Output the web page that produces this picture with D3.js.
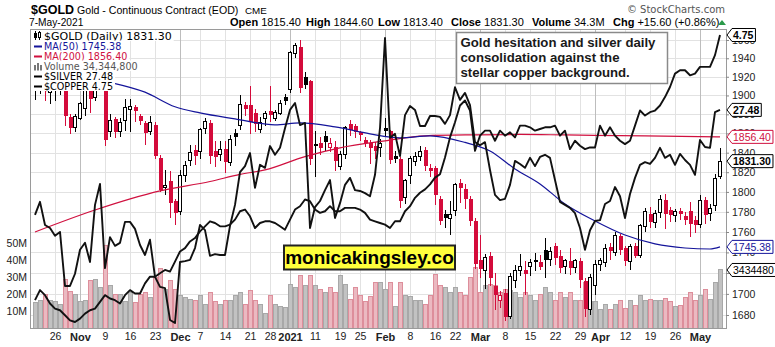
<!DOCTYPE html>
<html><head><meta charset="utf-8">
<script src="https://cdn.jsdelivr.net/npm/d3@7"></script>
<style>
body{margin:0;background:#fff;}
svg{display:block;font-family:"Liberation Sans",Arial,sans-serif;}
</style>
</head><body>
<svg id="c" width="775" height="347"></svg>
<script>
// ---------- DATA ----------
const tradingDays = {
  '2020-10': [20,21,22,23,26,27,28,29,30],
  '2020-11': [2,3,4,5,6,9,10,11,12,13,16,17,18,19,20,23,24,25,27,30],
  '2020-12': [1,2,3,4,7,8,9,10,11,14,15,16,17,18,21,22,23,24,28,29,30,31],
  '2021-01': [4,5,6,7,8,11,12,13,14,15,19,20,21,22,25,26,27,28,29],
  '2021-02': [1,2,3,4,5,8,9,10,11,12,16,17,18,19,22,23,24,25,26],
  '2021-03': [1,2,3,4,5,8,9,10,11,12,15,16,17,18,19,22,23,24,25,26,29,30,31],
  '2021-04': [1,5,6,7,8,9,12,13,14,15,16,19,20,21,22,23,26,27,28,29,30],
  '2021-05': [3,4,5,6,7]
};
const openP = [1906,1907,1922,1903,1905,1908,1910,1877,1866,1876,1886,1910,1898,1946,1955,1862,1875,1862,1874,1885,
1888,1878,1871,1862,1869,1835,1804,1811,1791,1780,1817,1832,1843,1841,1865,1871,1842,1838,1844,1830,
1860,1868,1890,1890,1881,1864,1876,1884,1876,1881,1898,1906,1945,1952,1920,1915,1849,1850,1857,1845,
1846,1826,1838,1870,1868,1861,1853,1850,1847,1845,1866,1862,1837,1833,1794,1817,1831,1836,1843,1824,
1824,1793,1778,1773,1781,1809,1803,1793,1771,1733,1722,1736,1708,1694,1701,1679,1713,1722,1723,1726,
1733,1731,1742,1733,1746,1736,1726,1732,1725,1732,1712,1685,1708,1728,1730,1745,1740,1756,1744,1731,
1746,1737,1765,1778,1769,1779,1792,1782,1776,1781,1776,1781,1772,1767,1792,1778,1786,1815.4];
const highP = [1916,1933,1928,1912,1917,1915,1912,1880,1880,1893,1912,1925,1952,1965,1966,1880,1877,1876,1896,1896,
1890,1880,1873,1878,1872,1838,1822,1821,1793,1822,1831,1848,1848,1866,1876,1874,1852,1852,1852,1858,
1865,1900,1893,1910,1886,1877,1884,1910,1885,1895,1902,1948,1957,1960,1925,1917,1862,1856,1862,1855,
1852,1842,1868,1874,1870,1863,1856,1853,1851,1854,1876,1864,1842,1836,1813,1837,1841,1847,1846,1828,
1826,1796,1782,1791,1809,1813,1808,1796,1774,1757,1738,1740,1720,1703,1705,1720,1728,1738,1732,1734,
1739,1737,1754,1745,1749,1742,1734,1744,1734,1735,1715,1719,1733,1735,1748,1749,1760,1758,1746,1748,
1749,1768,1784,1785,1782,1797,1798,1785,1783,1784,1780,1790,1776,1797,1795,1788,1818,1844.6];
const lowP = [1895,1902,1894,1891,1894,1901,1868,1859,1861,1874,1878,1881,1894,1937,1847,1856,1855,1856,1862,1861,
1872,1869,1848,1858,1834,1800,1797,1774,1767,1777,1810,1826,1827,1834,1859,1828,1825,1831,1819,1826,
1847,1864,1878,1859,1861,1860,1868,1872,1873,1879,1890,1903,1940,1903,1907,1827,1815,1838,1842,1841,
1821,1822,1834,1857,1855,1852,1846,1828,1834,1836,1856,1828,1829,1784,1788,1808,1826,1831,1821,1815,
1787,1767,1764,1757,1776,1789,1783,1766,1724,1715,1705,1708,1685,1687,1674,1676,1706,1717,1699,1717,
1722,1723,1715,1727,1728,1720,1719,1718,1720,1706,1678,1680,1699,1722,1726,1733,1736,1737,1727,1723,
1735,1735,1760,1764,1764,1774,1763,1770,1770,1772,1767,1755,1759,1764,1768,1771,1781,1813.4];
const closeP = [1907,1922,1905,1906,1908,1911,1878,1866,1878,1891,1907,1896,1946,1951,1853,1874,1861,1871,1887,1888,
1884,1873,1860,1871,1837,1802,1806,1789,1779,1817,1827,1840,1837,1864,1872,1837,1836,1843,1830,1854,
1856,1890,1886,1872,1870,1871,1881,1879,1882,1891,1894,1946,1954,1908,1911,1834,1847,1845,1851,1849,
1831,1838,1866,1864,1861,1858,1850,1845,1842,1849,1862,1832,1834,1791,1812,1834,1836,1841,1826,1821,
1797,1771,1774,1777,1807,1804,1793,1771,1729,1724,1735,1715,1699,1698,1678,1717,1722,1726,1719,1730,
1731,1726,1733,1741,1735,1725,1732,1725,1732,1713,1686,1716,1728,1732,1744,1741,1757,1742,1732,1746,
1736,1766,1780,1770,1778,1792,1778,1777,1780,1778,1772,1768,1767,1791,1777,1783,1814,1831.3];
const volumeM = [15,16,20,16,15.5,14,28.5,21.5,20,15.5,16,28,28.5,24,49,25,20,20,15.5,21,
15,20,21,18,30,35,23,28,23,19,18,17,16,19,14,21,15.5,14,16,16,
19,21,14,22,16,14,8.3,19,13.7,12.5,12,26,24,31,25,31,25,23,21,24,
21,31,26,17,24,19,15.5,18.5,27,27,23,27,13,27,19,18.5,16,16.5,14,19,
31.5,25,24,21,24,21,19,30,36,21,25,26,25,21,23,22,21,18,21,19,
16.5,20,24,21,16.5,21,18,21,16.5,16.5,27,15.5,15.5,11,14,11,14,16,11.5,16,
13.5,19,16,17,16,16,17.5,15.5,13,13.5,18,21,16,19,23,17,27,34.3448];
const silver = [25.07,25.37,24.84,24.77,24.59,24.68,23.44,23.44,23.72,24.27,
24.43,23.99,25.30,25.78,23.85,24.56,24.36,24.43,24.91,24.91,
24.75,24.38,24.15,24.50,23.65,23.42,23.39,22.66,22.59,23.99,
24.01,24.04,24.31,24.84,24.72,24.13,24.17,24.15,24.15,24.82,
25.30,26.05,26.19,26.49,25.69,26.22,26.15,26.65,26.45,26.61,
27.06,27.48,27.64,27.13,27.18,24.77,25.25,25.39,25.64,25.87,
25.00,25.34,25.76,25.92,25.64,25.62,25.57,25.50,25.99,27.06,
29.13,26.84,26.93,26.42,27.36,27.57,27.48,27.11,27.11,27.34,
27.34,27.32,27.16,27.36,28.00,27.71,27.87,27.59,26.74,26.67,
26.74,26.10,25.53,25.41,25.44,25.76,26.31,26.24,26.15,26.38,
26.19,26.40,26.45,26.38,25.87,25.37,25.30,25.23,25.11,24.77,
24.27,24.72,24.93,24.95,25.32,25.39,25.71,25.50,25.00,25.55,
25.92,26.22,26.28,26.24,26.38,26.61,26.38,26.45,26.22,26.47,
26.33,26.22,25.99,26.79,26.63,26.61,27.43,27.48];
const copper = [3.17,3.23,3.20,3.15,3.12,3.11,3.08,3.05,3.04,3.06,
3.09,3.11,3.12,3.16,3.20,3.18,3.17,3.15,3.20,3.23,
3.21,3.21,3.27,3.31,3.31,3.33,3.35,3.34,3.40,3.46,
3.48,3.52,3.54,3.58,3.61,3.64,3.63,3.61,3.61,3.62,
3.65,3.70,3.71,3.67,3.60,3.63,3.64,3.64,3.63,3.61,
3.59,3.65,3.71,3.73,3.77,3.76,3.71,3.69,3.70,3.73,
3.70,3.70,3.72,3.72,3.72,3.71,3.69,3.65,3.64,3.63,
3.62,3.60,3.64,3.64,3.70,3.73,3.78,3.81,3.83,3.86,
3.90,3.92,4.02,4.14,4.23,4.33,4.36,4.30,4.06,4.15,
4.18,4.18,4.12,4.18,4.15,4.17,4.14,4.21,4.21,4.20,
4.18,4.19,4.20,4.20,4.21,4.15,4.18,4.07,4.12,4.09,
4.07,4.08,4.08,4.21,4.15,4.20,4.15,4.12,4.10,4.12,
4.21,4.30,4.27,4.29,4.30,4.33,4.38,4.44,4.52,4.54,
4.54,4.51,4.52,4.56,4.56,4.56,4.63,4.75];
const ma50Dates = ['2020-10-20','2020-10-30','2020-11-10','2020-11-19','2020-11-30','2020-12-07','2020-12-16','2020-12-29',
  '2021-01-06','2021-01-15','2021-01-27','2021-02-04','2021-02-12','2021-02-24','2021-03-03','2021-03-10','2021-03-17',
  '2021-03-24','2021-04-01','2021-04-12','2021-04-20','2021-04-28','2021-05-05','2021-05-07'];
const ma50Values = [1927,1921,1914,1903.5,1888,1881.5,1875.2,1868.9,1871,1866.8,1859.5,1855.4,1857.5,1850.6,1841.8,
  1823.3,1808.1,1787.8,1770.9,1757,1748.3,1744.3,1743.3,1745.38];
const ma200Dates = ['2020-10-20','2020-11-05','2020-11-24','2020-12-09','2020-12-17','2020-12-24','2021-01-07','2021-01-19',
  '2021-02-01','2021-02-11','2021-02-26','2021-03-11','2021-03-24','2021-04-16','2021-05-07'];
const ma200Values = [1760,1781.8,1801,1810.5,1817.8,1822.3,1836,1845,1852.2,1857.5,1858.5,1858.9,1858.4,1857.4,1856.4];
const priceTicks = [1680,1700,1720,1740,1760,1780,1800,1820,1840,1860,1880,1900,1920,1940,1960];
const volumeTicks = [10e6,20e6,30e6,40e6,50e6];
const xTickDates = ['2020-10-26','2020-11-02','2020-11-09','2020-11-16','2020-11-23','2020-12-01','2020-12-07','2020-12-14',
  '2020-12-21','2020-12-28','2021-01-04','2021-01-11','2021-01-19','2021-01-25','2021-02-01','2021-02-08','2021-02-16',
  '2021-02-22','2021-03-01','2021-03-08','2021-03-15','2021-03-22','2021-03-29','2021-04-05','2021-04-12','2021-04-19',
  '2021-04-26','2021-05-03'];
const xTickLabels = ['26','Nov','9','16','23','Dec','7','14','21','28','2021','11','19','25','Feb','8','16','22','Mar','8',
  '15','22','29','Apr','12','19','26','May'];
const boldLabels = ['Nov','Dec','2021','Feb','Mar','Apr','May'];
const monthStarts = ['2020-11-02','2020-12-01','2021-01-04','2021-02-01','2021-03-01','2021-04-01','2021-05-03'];

// ---------- SETUP ----------
const dates = [];
Object.keys(tradingDays).forEach(m => tradingDays[m].forEach(d => dates.push(m + '-' + String(d).padStart(2,'0'))));
const idx = d => dates.indexOf(d);
const P = {l:30, r:726, t:29, b:328};
const svg = d3.select('#c');
const RED = '#d40b3b', BLACK = '#000';

const x = d3.scaleLinear().domain([-1, 138.2]).range([P.l, P.r]);
const y = d3.scaleLog().domain([1667.8, 1972.1]).range([P.b, P.t]);
const yVol = d3.scaleLinear().domain([0, 177e6]).range([P.b, P.t]);
const ySilver = d3.scaleLinear().domain(d3.extent(silver)).range([P.t + 294, P.t + 9]);
const yCopper = d3.scaleLinear().domain(d3.extent(copper)).range([P.t + 293, P.t + 6]);

svg.append('rect').attr('width', 775).attr('height', 347).attr('fill', '#fff');

svg.append('clipPath').attr('id', 'pc').append('rect')
  .attr('x', P.l).attr('y', P.t).attr('width', P.r - P.l).attr('height', P.b - P.t);

// gridlines
const grid = svg.append('g').attr('shape-rendering', 'crispEdges');
priceTicks.forEach(t => grid.append('line').attr('x1', P.l).attr('x2', P.r)
  .attr('y1', Math.round(y(t)) + 0.5).attr('y2', Math.round(y(t)) + 0.5).attr('stroke', '#e2e2e2'));
xTickDates.forEach((d, i) => {
  if (boldLabels.includes(xTickLabels[i])) return;
  const xx = Math.round(x(idx(d))) + 0.5;
  grid.append('line').attr('x1', xx).attr('x2', xx).attr('y1', P.t).attr('y2', P.b).attr('stroke', '#e2e2e2');
});
monthStarts.forEach(d => {
  const xx = Math.round(x(idx(d))) + 0.5;
  grid.append('line').attr('x1', xx).attr('x2', xx).attr('y1', P.t).attr('y2', P.b).attr('stroke', '#bdbdbd');
});

const plotG = svg.append('g').attr('clip-path', 'url(#pc)');

// volume
const isUp = i => i === 0 ? closeP[0] >= openP[0] : closeP[i] >= closeP[i - 1];
plotG.append('g').attr('shape-rendering', 'crispEdges').selectAll('rect').data(volumeM).join('rect')
  .attr('x', (v, i) => Math.round(x(i)) - 2).attr('width', 4)
  .attr('y', v => yVol(v * 1e6)).attr('height', v => P.b - yVol(v * 1e6))
  .attr('fill', (v, i) => isUp(i) ? '#c2c2c2' : '#ebb9c1')
  .attr('stroke', (v, i) => isUp(i) ? '#a8a8a8' : '#dd8e9b').attr('stroke-width', 1);

// candles
const cg = plotG.append('g').attr('shape-rendering', 'crispEdges');
closeP.forEach((c, i) => {
  const cx = Math.round(x(i));
  const col = isUp(i) ? BLACK : RED;
  const o = openP[i];
  cg.append('line').attr('x1', cx + 0.5).attr('x2', cx + 0.5).attr('y1', y(highP[i])).attr('y2', y(lowP[i]))
    .attr('stroke', col).attr('stroke-width', 1);
  const top = y(Math.max(o, c)), bot = y(Math.min(o, c));
  const h = Math.max(1, bot - top);
  if (c > o) {
    cg.append('rect').attr('x', cx - 1.5).attr('y', top).attr('width', 3).attr('height', h)
      .attr('fill', '#fff').attr('stroke', col).attr('stroke-width', 1);
  } else {
    cg.append('rect').attr('x', cx - 1.5).attr('y', top).attr('width', 4).attr('height', h).attr('fill', col);
  }
});

// moving averages
const maLine = d3.line().x(d => x(d[0])).y(d => y(d[1])).curve(d3.curveMonotoneX);
plotG.append('path').datum(ma200Dates.map((d, i) => [idx(d), ma200Values[i]]))
  .attr('d', maLine).attr('fill', 'none').attr('stroke', '#d0103f').attr('stroke-width', 1.2);
plotG.append('path').datum(ma50Dates.map((d, i) => [idx(d), ma50Values[i]]))
  .attr('d', maLine).attr('fill', 'none').attr('stroke', '#14149a').attr('stroke-width', 1.2);

// overlays
plotG.append('path').datum(silver).attr('d', d3.line().x((v, i) => x(i)).y(v => ySilver(v)))
  .attr('fill', 'none').attr('stroke', '#111').attr('stroke-width', 1.9).attr('stroke-linejoin', 'round');
plotG.append('path').datum(copper).attr('d', d3.line().x((v, i) => x(i)).y(v => yCopper(v)))
  .attr('fill', 'none').attr('stroke', '#111').attr('stroke-width', 1.9).attr('stroke-linejoin', 'round');

// border
svg.append('rect').attr('x', P.l + 0.5).attr('y', P.t + 0.5).attr('width', P.r - P.l).attr('height', P.b - P.t)
  .attr('fill', 'none').attr('stroke', '#9a9a9a').attr('shape-rendering', 'crispEdges');

// axes
const styleAxis = g => { g.select('.domain').remove(); g.selectAll('line').attr('stroke', '#888');
  g.selectAll('text').attr('font-family', '"Liberation Sans",Arial,sans-serif').attr('font-size', 10.5).attr('fill', '#222'); };
svg.append('g').attr('transform', `translate(${P.r},0)`)
  .call(d3.axisRight(y).tickValues(priceTicks).tickFormat(d3.format('d')).tickSize(3).tickPadding(3)).call(styleAxis);
svg.append('g').attr('transform', `translate(${P.l},0)`)
  .call(d3.axisLeft(yVol).tickValues(volumeTicks).tickFormat(d => (d / 1e6) + 'M').tickSize(0).tickPadding(3)).call(styleAxis);
const xa = svg.append('g').attr('transform', `translate(0,${P.b})`)
  .call(d3.axisBottom(x).tickValues(xTickDates.map(idx)).tickFormat((d, i) => xTickLabels[i]).tickSize(0).tickPadding(5))
  .call(styleAxis);
xa.selectAll('text').attr('font-weight', (d, i) => boldLabels.includes(xTickLabels[i]) ? 'bold' : 'normal')
  .attr('font-size', (d, i) => boldLabels.includes(xTickLabels[i]) ? 11 : 10.5);

// legend
const legend = [
  {t: '$GOLD (Daily) 1831.30', c: '#000', icon: 'candle', fs: 11},
  {t: 'MA(50) 1745.38', c: '#14149a', icon: 'line', fs: 9.6},
  {t: 'MA(200) 1856.40', c: '#d0103f', icon: 'line', fs: 9.6},
  {t: 'Volume 34,344,800', c: '#555', icon: 'bars', fs: 9.6},
  {t: '$SILVER 27.48', c: '#000', icon: 'line', fs: 9.6},
  {t: '$COPPER 4.75', c: '#000', icon: 'line', fs: 9.6}
];
const lg = svg.append('g');
legend.forEach((L, k) => {
  const base = 40 + k * 10;
  const bg = lg.append('rect').attr('x', 31).attr('y', base - 9.5).attr('height', 10.5).attr('fill', '#fff');
  const tx = lg.append('text').attr('x', 44).attr('y', base).attr('font-family', '"DejaVu Sans",Verdana,sans-serif')
    .attr('font-size', L.fs).attr('fill', L.c).text(L.t);
  bg.attr('width', 44 - 31 + tx.node().getComputedTextLength() + 2);
  if (L.icon === 'line') lg.append('rect').attr('x', 34).attr('y', base - 4.5).attr('width', 8).attr('height', 2).attr('fill', L.c);
  if (L.icon === 'bars') [0, 3, 6].forEach((o, j) => lg.append('rect').attr('x', 34 + o).attr('y', base - 6 + (j === 1 ? -1 : 1))
    .attr('width', 2).attr('height', 7 - (j === 1 ? -1 : 1)).attr('fill', '#777'));
  if (L.icon === 'candle') {
    lg.append('line').attr('x1', 35.5).attr('x2', 35.5).attr('y1', base - 9).attr('y2', base).attr('stroke', '#000');
    lg.append('rect').attr('x', 34).attr('y', base - 7).attr('width', 3).attr('height', 5).attr('fill', '#000');
    lg.append('line').attr('x1', 39.5).attr('x2', 39.5).attr('y1', base - 9).attr('y2', base).attr('stroke', '#000');
    lg.append('rect').attr('x', 38.5).attr('y', base - 7.5).attr('width', 2).attr('height', 5).attr('fill', '#fff').attr('stroke', '#000');
  }
});

// watermark box
svg.append('rect').attr('x', 284).attr('y', 245.5).attr('width', 171).attr('height', 24)
  .attr('fill', '#ffff3c').attr('stroke', '#222').attr('stroke-width', 2);
svg.append('text').attr('x', 369.5).attr('y', 264).attr('text-anchor', 'middle').attr('font-weight', 'bold')
  .attr('font-size', 19).attr('fill', '#000').text('monicakingsley.co');

// annotation
svg.append('rect').attr('x', 456.5).attr('y', 32.5).attr('width', 211).attr('height', 51)
  .attr('fill', '#fff').attr('stroke', '#8a8a8a').attr('stroke-width', 1.5);
['Gold hesitation and silver daily', 'consolidation against the', 'stellar copper background.'].forEach((t, k) =>
  svg.append('text').attr('x', 460.5).attr('y', 47 + k * 15).attr('font-size', 13.2).attr('font-weight', 'bold')
    .attr('fill', '#1a1a1a').text(t));

// value tags
function tag(yy, text, color, bold) {
  const g = svg.append('g');
  const p = g.append('path');
  const t = g.append('text').attr('x', 733).attr('y', yy + 3.8).attr('font-size', 10.5)
    .attr('font-weight', bold ? 'bold' : 'normal').attr('fill', color).text(text);
  const w = t.node().getComputedTextLength();
  p.attr('d', `M727,${yy} L732,${yy - 6.5} L${735 + w},${yy - 6.5} L${735 + w},${yy + 6.5} L732,${yy + 6.5} Z`)
    .attr('fill', '#fff').attr('stroke', color).attr('stroke-width', 1);
}
const last = closeP.length - 1;
tag(yCopper(copper[last]), copper[last].toFixed(2), '#000', true);
tag(ySilver(silver[last]), silver[last].toFixed(2), '#000', true);
tag(y(ma200Values[ma200Values.length - 1]), ma200Values[ma200Values.length - 1].toFixed(2), '#d0103f', false);
tag(y(closeP[last]), closeP[last].toFixed(2), '#000', true);
tag(y(ma50Values[ma50Values.length - 1]), ma50Values[ma50Values.length - 1].toFixed(2), '#14149a', false);
tag(yVol(volumeM[last] * 1e6), '3434480', '#000', false);

// header
svg.append('text').attr('x', 31).attr('y', 14).attr('font-size', 12.5).attr('font-weight', 'bold').text('$GOLD');
svg.append('text').attr('x', 77).attr('y', 14).attr('font-size', 10.6).text('Gold - Continuous Contract (EOD)');
svg.append('text').attr('x', 245).attr('y', 14).attr('font-size', 9.8).text('CME');
svg.append('text').attr('x', 29).attr('y', 26).attr('font-size', 10.2).text('7-May-2021');
const hdr = [['Open', '1815.40', 230], ['High', '1844.60', 306], ['Low', '1813.40', 378], ['Close', '1831.30', 451],
  ['Volume', '34.3M', 532], ['Chg', '+15.60 (+0.86%)', 613]];
hdr.forEach(h => {
  const t = svg.append('text').attr('x', h[2]).attr('y', 26).attr('font-size', 11);
  t.append('tspan').attr('font-weight', 'bold').text(h[0]);
  t.append('tspan').text(' ' + h[1]);
});
svg.append('path').attr('d', 'M718,25 L722,20 L726,25 Z').attr('fill', '#2a9a4a');
svg.append('text').attr('x', 725).attr('y', 13).attr('text-anchor', 'end').attr('font-size', 10)
  .attr('font-family', '"DejaVu Sans",Verdana,sans-serif').attr('fill', '#555').text('\u00A9 StockCharts.com');
</script>
</body></html>
